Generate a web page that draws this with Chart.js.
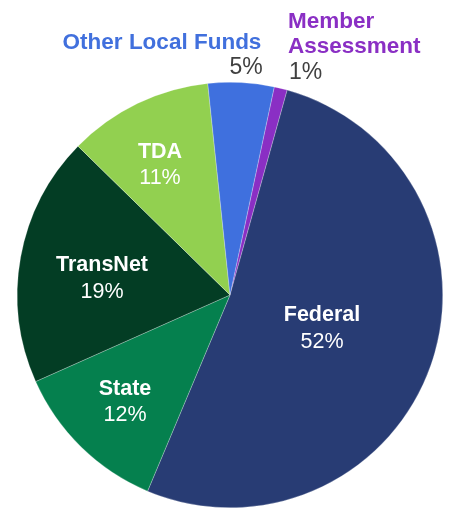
<!DOCTYPE html>
<html><head><meta charset="utf-8">
<script src="https://cdn.jsdelivr.net/npm/chart.js@4/dist/chart.umd.min.js"></script>
<style>html,body{margin:0;padding:0;background:#fff}#wrap{width:449px;height:509px}</style>
</head><body><div id="wrap"><canvas id="c" width="449" height="509"></canvas></div>
<script>
const categories = ["Member Assessment","Federal","State","TransNet","TDA","Other Local Funds"];
const shares = [1, 52, 12, 19, 11, 5];
const colors = ["#8A2FC4","#283C74","#05804E","#033D24","#92D050","#3F70DE"];

const labelLayout = [
  {x:288, ys:[22,47], py:73, nameColor:"#8A2FC4", pctColor:"#404040", align:"left", lines:["Member","Assessment"], size:22.5, psize:23},
  {x:322, ys:[315], py:342, nameColor:"#fff", pctColor:"#fff", align:"center", lines:["Federal"], size:21.5, psize:21.5},
  {x:125, ys:[389], py:415, nameColor:"#fff", pctColor:"#fff", align:"center", lines:["State"], size:21.5, psize:21.5},
  {x:102, ys:[265], py:292, nameColor:"#fff", pctColor:"#fff", align:"center", lines:["TransNet"], size:21.5, psize:21.5},
  {x:160, ys:[152], py:178, nameColor:"#fff", pctColor:"#fff", align:"center", lines:["TDA"], size:21.5, psize:21.5},
  {x:162, ys:[43], py:68, px:246, nameColor:"#4170DD", pctColor:"#404040", align:"center", lines:["Other Local Funds"], size:22.5, psize:23}
];

const labelPlugin = {
  id:'labels',
  afterDatasetsDraw(chart){
    const ctx = chart.ctx;
    ctx.save();
    ctx.textBaseline = 'middle';
    labelLayout.forEach((L,i)=>{
      ctx.textAlign = L.align;
      ctx.font = 'bold ' + L.size + 'px "Liberation Sans", Arial, sans-serif';
      ctx.fillStyle = L.nameColor;
      L.lines.forEach((t,k)=>ctx.fillText(t, L.x, L.ys[k]));
      ctx.font = L.psize + 'px "Liberation Sans", Arial, sans-serif';
      ctx.fillStyle = L.pctColor;
      const px = L.px !== undefined ? L.px : (L.align==='left' ? L.x+1 : L.x);
      ctx.fillText(shares[i] + '%', px, L.py);
    });
    ctx.restore();
  }
};

new Chart(document.getElementById('c'), {
  type:'pie',
  data:{labels:categories, datasets:[{data:shares, backgroundColor:colors, borderWidth:0.5, borderColor:'rgba(255,255,255,0.5)'}]},
  options:{
    responsive:false, animation:false, rotation:12,
    layout:{padding:{top:82,bottom:1,left:17,right:6}},
    plugins:{legend:{display:false}, tooltip:{enabled:false}}
  },
  plugins:[labelPlugin]
});
</script></body></html>
